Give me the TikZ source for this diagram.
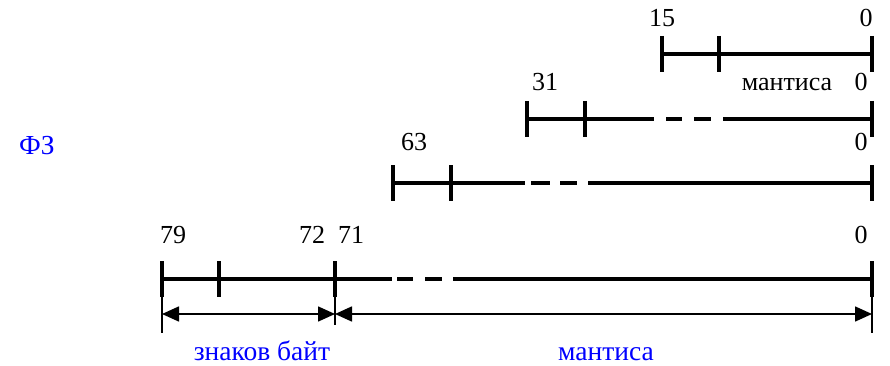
\documentclass[tikz,border=0pt]{standalone}
\usepackage{fontspec}
\setmainfont{Liberation Serif}
\usetikzlibrary{arrows.meta}
\begin{document}
\begin{tikzpicture}[x=1pt,y=-1pt,
  bar/.style={line width=4pt},
  tickmark/.style={line width=4.5pt},
  guide/.style={line width=1.6pt},
  dimline/.style={line width=1.6pt,
    {Triangle[length=17pt,width=15pt]}-{Triangle[length=17pt,width=15pt]}},
  num/.style={anchor=base, inner sep=0pt, font=\fontsize{26}{31}\selectfont},
  caption/.style={anchor=base, inner sep=0pt, text=blue, font=\fontsize{27.5}{33}\selectfont}]
\useasboundingbox (0,0) rectangle (890,366);

% ---- 16-bit format ----
\draw[bar] (662,54) -- (872,54);
\foreach \x in {662,719,872} \draw[tickmark] (\x,36) -- (\x,72);
\node[num] (n15) at (662,27) {15};
\node[num] (n0a) at (866,27) {0};

% ---- 32-bit format ----
\draw[bar] (527,119) -- (654,119);
\draw[bar] (666,119) -- (682,119);
\draw[bar] (694,119) -- (711,119);
\draw[bar] (723,119) -- (872,119);
\foreach \x in {527,585,872} \draw[tickmark] (\x,101) -- (\x,137);
\node[num] (n31) at (545,91) {31};
\node[num] (mant1) at (787,91) {мантиса};
\node[num] (n0b) at (861,91) {0};

% ---- 64-bit format ----
\draw[bar] (393,183) -- (525,183);
\draw[bar] (531,183) -- (550,183);
\draw[bar] (560,183) -- (577,183);
\draw[bar] (588,183) -- (872,183);
\foreach \x in {393,451,872} \draw[tickmark] (\x,165) -- (\x,201);
\node[num] (n63) at (414,151) {63};
\node[num] (n0c) at (861,151) {0};

% ---- 80-bit format ----
\draw[bar] (162,279) -- (392,279);
\draw[bar] (397,279) -- (413,279);
\draw[bar] (425,279) -- (442,279);
\draw[bar] (453,279) -- (872,279);
\foreach \x in {162,219,335,872} \draw[tickmark] (\x,261) -- (\x,297);
\node[num] (n79) at (173,243) {79};
\node[num] (n72) at (312,243) {72};
\node[num] (n71) at (351,243) {71};
\node[num] (n0d) at (861,243) {0};

% ---- field extents ----
\coordinate (s) at (162,314);
\coordinate (m) at (335,314);
\coordinate (e) at (872,314);
\draw[guide] (162,279) -- (162,333);
\draw[guide] (335,279) -- (335,325);
\draw[guide] (872,279) -- (872,333);
\draw[dimline] (s) -- (m);
\draw[dimline] (m) -- (e);
\node[caption] (sign) at (262,360) {знаков байт};
\node[caption] (mant2) at (606,360) {мантиса};

\node[caption] (fz) at (37,155) {ФЗ};
\end{tikzpicture}
\end{document}
